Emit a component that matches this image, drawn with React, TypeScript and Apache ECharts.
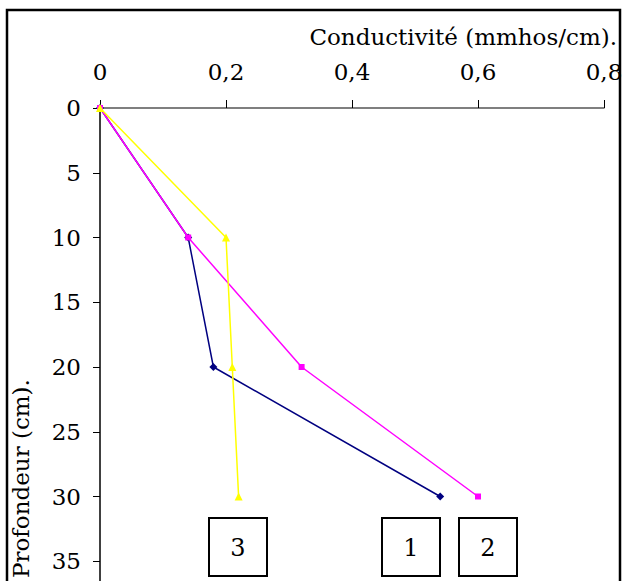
import React, { useEffect, useRef } from "react";
import * as echarts from "echarts";

// Depth (cm) at which each conductivity reading was taken
const depths = [0, 10, 20, 30];
// Conductivity (mmhos/cm) per profile
const profile1 = [0, 0.14, 0.18, 0.54];
const profile2 = [0, 0.14, 0.32, 0.6];
const profile3 = [0, 0.2, 0.21, 0.22];
const profileLabels = ["3", "1", "2"];

const xTitle = "Conductivité (mmhos/cm).";
const yTitle = "Profondeur (cm).";

const FONT = "DejaVu Serif";
const SIZE = 23;

const toPairs = (xs: number[]) => xs.map((v, i) => [v, depths[i]]);

export default function App() {
  const ref = useRef<HTMLDivElement>(null);

  useEffect(() => {
    if (!ref.current) return;
    const chart = echarts.init(ref.current, null, { renderer: "svg" });

    const boxX = [209, 382, 459];
    const boxes = profileLabels.map((label, i) => ({
      type: "group",
      x: boxX[i],
      y: 518,
      children: [
        {
          type: "rect",
          shape: { x: 0, y: 0, width: 58, height: 58 },
          style: { fill: "#fff", stroke: "#000", lineWidth: 2 },
        },
        {
          type: "text",
          x: 29,
          y: 30,
          style: {
            text: label,
            fontFamily: FONT,
            fontSize: SIZE + 1,
            fill: "#000",
            align: "center",
            verticalAlign: "middle",
          },
        },
      ],
    }));

    chart.setOption({
      animation: false,
      backgroundColor: "#fff",
      textStyle: { fontFamily: FONT },
      grid: {
        left: 100,
        top: 108,
        width: 504,
        height: 518,
        containLabel: false,
        outerBoundsMode: "none",
      },
      xAxis: {
        type: "value",
        position: "top",
        min: 0,
        max: 0.8,
        interval: 0.2,
        axisLine: { show: true, lineStyle: { color: "#555", width: 1.5 } },
        axisTick: { show: true, length: 8, lineStyle: { color: "#000", width: 1 } },
        axisLabel: {
          margin: 25,
          color: "#000",
          fontFamily: FONT,
          fontSize: SIZE,
          formatter: (v: number) => String(+v.toFixed(1)).replace(".", ","),
        },
        splitLine: { show: false },
      },
      yAxis: {
        type: "value",
        inverse: true,
        min: 0,
        max: 40,
        interval: 5,
        axisLine: { show: true, lineStyle: { color: "#000", width: 1.5 } },
        axisTick: { show: true, length: 7, lineStyle: { color: "#000", width: 1 } },
        axisLabel: {
          margin: 19,
          color: "#000",
          fontFamily: FONT,
          fontSize: SIZE,
          showMaxLabel: false,
        },
        splitLine: { show: false },
      },
      series: [
        {
          name: "1",
          type: "line",
          data: toPairs(profile1),
          symbol: "diamond",
          symbolSize: 8,
          lineStyle: { color: "#000080", width: 1.5 },
          itemStyle: { color: "#000080" },
        },
        {
          name: "2",
          type: "line",
          data: toPairs(profile2),
          symbol: "rect",
          symbolSize: 6,
          lineStyle: { color: "#ff00ff", width: 1.5 },
          itemStyle: { color: "#ff00ff" },
        },
        {
          name: "3",
          type: "line",
          data: toPairs(profile3),
          symbol: "triangle",
          symbolSize: 8,
          lineStyle: { color: "#ffff00", width: 1.5 },
          itemStyle: { color: "#ffff00" },
        },
      ],
      graphic: [
        {
          type: "rect",
          z: -1,
          shape: { x: 7, y: 10, width: 613, height: 700 },
          style: { fill: "none", stroke: "#000", lineWidth: 2.5 },
        },
        {
          type: "text",
          x: 617,
          y: 37,
          style: {
            text: xTitle,
            fontFamily: FONT,
            fontSize: SIZE,
            fill: "#000",
            align: "right",
            verticalAlign: "middle",
          },
        },
        {
          type: "text",
          x: 21,
          y: 578,
          rotation: Math.PI / 2,
          style: {
            text: yTitle,
            fontFamily: FONT,
            fontSize: SIZE,
            fill: "#000",
            align: "left",
            verticalAlign: "middle",
          },
        },
        ...boxes,
      ],
    });

    return () => chart.dispose();
  }, []);

  return (
    <div
      ref={ref}
      style={{ position: "fixed", left: 0, top: 0, width: 623, height: 720 }}
    />
  );
}
